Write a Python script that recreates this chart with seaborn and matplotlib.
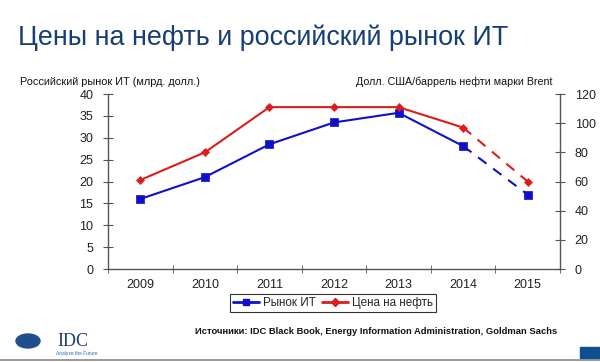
import numpy as np
import pandas as pd
import matplotlib
matplotlib.use("Agg")
import matplotlib.pyplot as plt
from matplotlib.patches import Ellipse, Rectangle
from matplotlib.lines import Line2D
import seaborn as sns

years = ["2009", "2010", "2011", "2012", "2013", "2014", "2015"]
it_market = [16.0, 21.0, 28.5, 33.5, 35.7, 28.1, 17.0]
oil_price = [61, 80, 111, 111, 111, 97, 60]

sns.set_style("white")
plt.rcParams["font.family"] = ["Liberation Sans", "DejaVu Sans"]

BLUE = "#1010c8"
RED = "#dd1c1c"
GREY = "#555555"

df = pd.DataFrame({"year": years, "pos": np.arange(len(years)),
                   "it": it_market, "oil": oil_price})
solid = df.iloc[:-1]
dash = df.iloc[-2:]

fig = plt.figure(figsize=(6.0, 3.62), dpi=100)
ax = fig.add_axes([0.18, 0.2569, 0.7533, 0.4834])
ax2 = ax.twinx()

sns.lineplot(data=solid, x="pos", y="it", ax=ax, color=BLUE, lw=1.5)
sns.lineplot(data=dash, x="pos", y="it", ax=ax, color=BLUE, lw=1.5, linestyle=(0, (5, 4)))
sns.scatterplot(data=df, x="pos", y="it", ax=ax, color=BLUE, marker="s", s=40,
                edgecolor=BLUE, zorder=5)

sns.lineplot(data=solid, x="pos", y="oil", ax=ax2, color=RED, lw=1.5)
sns.lineplot(data=dash, x="pos", y="oil", ax=ax2, color=RED, lw=1.5, linestyle=(0, (5, 4)))
sns.scatterplot(data=df, x="pos", y="oil", ax=ax2, color=RED, marker="D", s=18,
                edgecolor=RED, zorder=5)

ax.set_xlim(-0.5, len(years) - 0.5)
ax.set_ylim(0, 40)
ax2.set_ylim(0, 120)
ax.set_yticks(range(0, 41, 5))
ax2.set_yticks(range(0, 121, 20))
ax.set_xticks(df["pos"])
ax.set_xticklabels(years)
ax.set_xticks(np.arange(-0.5, len(years), 1.0), minor=True)
ax.tick_params(axis="x", which="major", length=0, pad=7, labelsize=9, colors="#222222")
ax.tick_params(axis="x", which="minor", length=6, direction="inout", color=GREY, bottom=True)
ax.tick_params(axis="y", length=7, direction="inout", color=GREY, labelsize=9,
               labelcolor="#222222", pad=7, left=True)
ax2.tick_params(axis="y", length=7, direction="inout", color=GREY, labelsize=9,
                labelcolor="#222222", pad=7, right=True)
ax.set_xlabel("")
ax.set_ylabel("")
ax2.set_ylabel("")

for a in (ax, ax2):
    a.spines["top"].set_visible(False)
    for s in ("left", "right", "bottom"):
        a.spines[s].set_color(GREY)
        a.spines[s].set_linewidth(1.0)
ax.spines["right"].set_visible(False)
ax2.spines["left"].set_visible(False)
ax2.spines["bottom"].set_visible(False)

handles = [Line2D([], [], color=BLUE, lw=2, marker="s", ms=5),
           Line2D([], [], color=RED, lw=2, marker="D", ms=4)]
leg = fig.legend(handles, ["Рынок ИТ", "Цена на нефть"], loc="center",
                 bbox_to_anchor=(333 / 600, 1 - 303 / 362), ncol=2, fontsize=8.4,
                 frameon=True, fancybox=False, handlelength=2.2, handletextpad=0.3,
                 columnspacing=0.6, borderpad=0.25)
leg.get_frame().set_edgecolor("black")
leg.get_frame().set_linewidth(0.8)

fig.text(18 / 600, 1 - 38 / 362, "Цены на нефть и российский рынок ИТ",
         fontsize=19.4, color="#173f73", va="center", ha="left")
fig.text(20 / 600, 1 - 82 / 362, "Российский рынок ИТ (млрд. долл.)",
         fontsize=7.8, color="#111111", va="center", ha="left")
fig.text(553 / 600, 1 - 82 / 362, "Долл. США/баррель нефти марки Brent",
         fontsize=7.7, color="#111111", va="center", ha="right")
fig.text(557 / 600, 1 - 332 / 362,
         "Источники: IDC Black Book, Energy Information Administration, Goldman Sachs",
         fontsize=6.75, fontweight="bold", color="#111111", va="center", ha="right")

# IDC logo
fig.add_artist(Ellipse((28 / 600, 1 - 341 / 362), 24 / 600, 14 / 362,
                       transform=fig.transFigure, color="#1d4f8a"))
fig.text(57 / 600, 1 - 341 / 362, "IDC", fontsize=13, family="Liberation Serif",
         color="#1d3f75", va="center", ha="left")
fig.text(56 / 600, 1 - 353 / 362, "Analyze the Future", fontsize=3.5,
         color="#2a6bb0", va="center", ha="left")

fig.add_artist(Line2D([0, 1], [1 - 360 / 362] * 2, transform=fig.transFigure,
                      color="#888888", lw=1.2))
fig.add_artist(Rectangle((580 / 600, 1 - 358 / 362), 20 / 600, 11 / 362,
                         transform=fig.transFigure, color="#0f4f8f"))

fig.savefig("out.png", dpi=100)
